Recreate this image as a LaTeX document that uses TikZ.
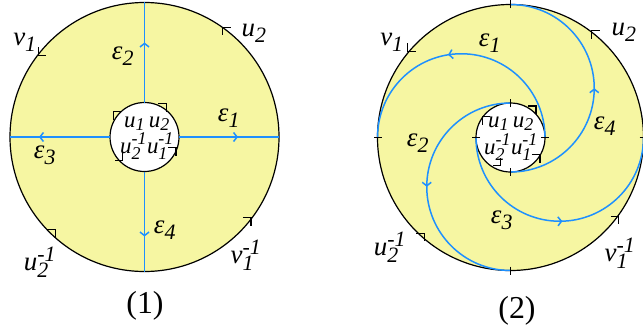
\documentclass[tikz,border=0pt]{standalone}
\usepackage{fontspec}
\setmainfont{Liberation Serif}
\usetikzlibrary{arrows.meta,decorations.markings}
\definecolor{diskyellow}{RGB}{246,246,162}
\definecolor{edgeblue}{RGB}{30,144,255}
\newcommand{\subfont}{\fontsize{22}{22}\selectfont}
% italic letter with italic subscript (and superscript)
\newcommand{\lbs}[2]{$\textit{#1}_{\hbox{\subfont\textit{#2}}}$}
\newcommand{\lbt}[3]{$\textit{#1}_{\hbox{\subfont\textit{#2}}}^{\hbox{\subfont\textit{#3}}}$}

\begin{document}
\begin{tikzpicture}[
  x=1bp, y=1bp,
  every node/.style={font=\fontsize{27}{31}\selectfont, inner sep=0pt},
  holetext/.style={font=\fontsize{23}{27}\selectfont\renewcommand{\subfont}{\fontsize{18}{18}\selectfont}, anchor=base},
  outerdisk/.style={circle, draw, line width=1.2bp, fill=diskyellow, inner sep=0pt, outer sep=0pt},
  innerdisk/.style={circle, draw, line width=1.2bp, fill=white, minimum size=69bp, inner sep=0pt, outer sep=0pt},
  blueedge/.style={edgeblue, line width=1.5bp},
  midarrow/.style={postaction={decorate}, decoration={markings,
      mark=at position #1 with {\arrow[edgeblue]{Straight Barb[length=3.5bp,width=9bp]}}}},
  cornermark/.style={line width=1.1bp},
  tickline/.style={line width=1.2bp},
  caption/.style={font=\fontsize{32}{36}\selectfont},
]
\useasboundingbox (0,0) rectangle (643,329);

% (1) straight cuts
\coordinate (c1) at (144.5,192);
\node[outerdisk, minimum size=269bp] (o1) at (c1) {};
\node[innerdisk] (i1) at (c1) {};
\draw[blueedge, midarrow=0.6]  (i1.north) -- (o1.north);
\draw[blueedge, midarrow=0.59] (i1.east) -- (o1.east);
\draw[blueedge, midarrow=0.71] (i1.west) -- (o1.west);
\draw[blueedge, midarrow=0.65] (i1.south) -- (o1.south);
\foreach \ang/\rad/\p/\q in {54.5/134.8/0/-90, 142.4/134/90/0, 226/128.7/180/-90, 322.8/133.7/180/-90,
    57/39.8/180/-90, 140.6/40/0/-90, 341/33.3/180/-90, 227/31.8/90/180}
  \draw[cornermark] (c1) ++(\ang:\rad) coordinate (mk) ++(\p:8) -- (mk) -- ++(\q:8);

\node (v1a) at (25,287) {\lbs{v}{1}};
\node (u2a) at (254,296) {\lbs{u}{2}};
\node (e2a) at (123,273) {\lbs{ε}{2}};
\node (e1a) at (229,211) {\lbs{ε}{1}};
\node (e3a) at (45,174) {\lbs{ε}{3}};
\node (e4a) at (165,99) {\lbs{ε}{4}};
\node (u2ia) at (40,67) {\lbt{u}{2}{-1}};
\node (v1ia) at (246,74) {\lbt{v}{1}{-1}};
\node[holetext] (w1a) at (147,202) {\lbs{u}{1}\,\lbs{u}{2}};
\node[holetext] (w2a) at (147,176) {\lbt{u}{2}{-1}\lbt{u}{1}{-1}};
\node[caption] (cap1) at (145,23) {(1)};

% (2) spiral cuts
\coordinate (c2) at (510.5,191.5);
\node[outerdisk, minimum size=266bp] (o2) at (c2) {};
\node[innerdisk] (i2) at (c2) {};
\draw[blueedge, midarrow=0.55] (i2.east) arc[start angle=0, end angle=180, radius=83.75];
\draw[blueedge, midarrow=0.5]  (i2.south) arc[start angle=-90, end angle=90, radius=83.75];
\draw[blueedge, midarrow=0.5]  (i2.north) arc[start angle=90, end angle=270, radius=83.75];
\draw[blueedge, midarrow=0.51] (i2.west) arc[start angle=180, end angle=360, radius=83.75];
\foreach \a in {0,90,180,270} {
  \draw[tickline] (c2) ++(\a:129) -- ++(\a:8);
  \draw[tickline] (c2) ++(\a:30.5) -- ++(\a:8);
}
\foreach \ang/\rad/\p/\q in {140/134/90/0, 52.8/134/0/-90, 228/129/180/-90, 324/134/180/-90,
    51/40.5/180/-90, 143.6/35/0/-90, 251/29.7/180/90, 330/34/180/-90}
  \draw[cornermark] (c2) ++(\ang:\rad) coordinate (mk) ++(\p:8) -- (mk) -- ++(\q:8);

\node (v1b) at (392,287) {\lbs{v}{1}};
\node (e1b) at (490,286) {\lbs{ε}{1}};
\node (u2b) at (624,297) {\lbs{u}{2}};
\node (e4b) at (605,203) {\lbs{ε}{4}};
\node (e2b) at (418,186) {\lbs{ε}{2}};
\node (e3b) at (502,109) {\lbs{ε}{3}};
\node (u2ib) at (390,82) {\lbt{u}{2}{-1}};
\node (v1ib) at (620,76) {\lbt{v}{1}{-1}};
\node[holetext] (w1b) at (511,202) {\lbs{u}{1}\,\lbs{u}{2}};
\node[holetext] (w2b) at (511,175) {\lbt{u}{2}{-1}\lbt{u}{1}{-1}};
\node[caption] (cap2) at (517,18) {(2)};
\end{tikzpicture}
\end{document}
